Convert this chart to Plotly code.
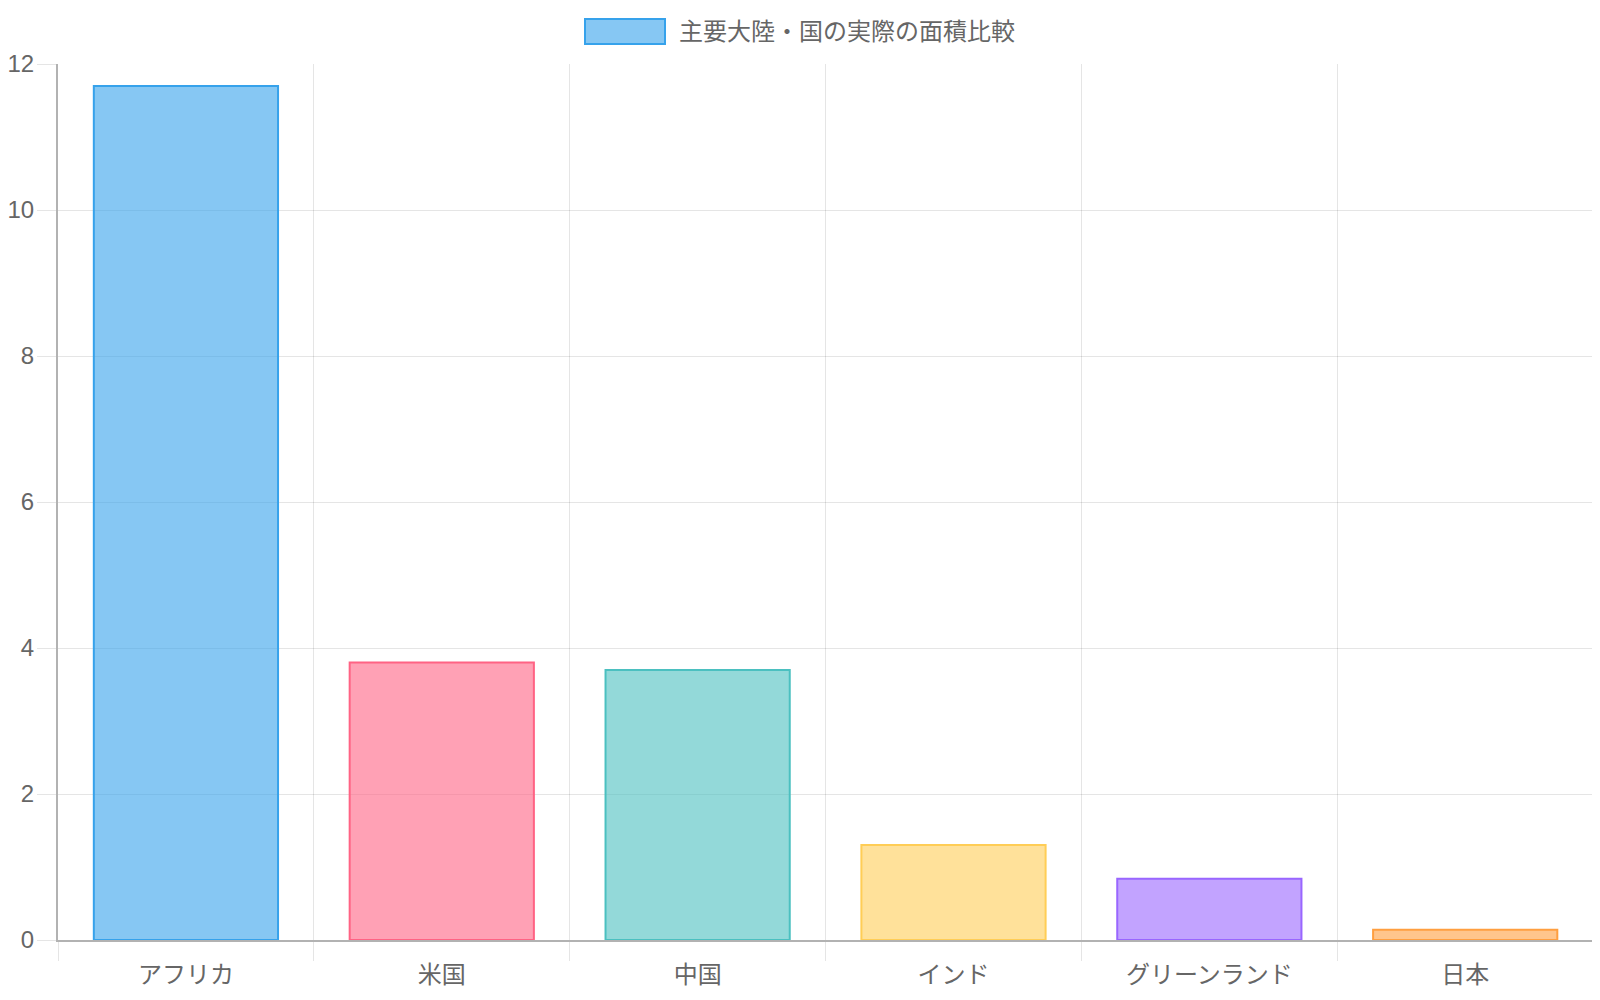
import plotly.graph_objects as go

# data (million sq mi)
categories = ["アフリカ", "米国", "中国", "インド", "グリーンランド", "日本"]
areas = [11.7, 3.8, 3.7, 1.3, 0.84, 0.14]
series_name = "主要大陸・国の実際の面積比較"

fill_colors = ["rgba(54,162,235,0.6)", "rgba(255,99,132,0.6)", "rgba(75,192,192,0.6)",
               "rgba(255,205,86,0.6)", "rgba(153,102,255,0.6)", "rgba(255,159,64,0.6)"]
line_colors = ["rgb(54,162,235)", "rgb(255,99,132)", "rgb(75,192,192)",
               "rgb(255,205,86)", "rgb(153,102,255)", "rgb(255,159,64)"]

# page body has an 8px margin, so the figure is a bit smaller than the window
W, H = 1592, 992
L, R, T, B = 50, 7, 56, 60
font = "Liberation Sans, Arial, Noto Sans CJK JP, sans-serif"
grid = "rgba(0,0,0,0.1)"
axis_line = "rgba(0,0,0,0.3)"


def px_x(px):
    # screen pixel -> paper coordinate
    return (px - 8 - L) / (W - L - R)


def px_y(py):
    return (H - B - (py - 8)) / (H - T - B)


fig = go.Figure()
fig.add_trace(go.Bar(
    x=categories, y=areas, name=series_name, showlegend=False,
    marker=dict(color=fill_colors, line=dict(color=line_colors, width=2)),
))

# chart.js style legend box at the top
fig.add_shape(type="rect", xref="paper", yref="paper",
              x0=px_x(585), x1=px_x(665), y0=px_y(44), y1=px_y(19),
              fillcolor=fill_colors[0], line=dict(color=line_colors[0], width=2))
fig.add_annotation(text=series_name, xref="paper", yref="paper",
                   x=px_x(677), y=px_y(31.5), xanchor="left", yanchor="middle",
                   showarrow=False, font=dict(size=24, color="#666", family=font))

fig.update_layout(
    width=W, height=H,
    margin=dict(l=L, r=R, t=T, b=B, autoexpand=False),
    plot_bgcolor="white", paper_bgcolor="white",
    bargap=0.28,
    font=dict(family=font, size=24, color="#666"),
    xaxis=dict(
        type="category", tickson="boundaries",
        range=[-0.5, 5.4995],
        showgrid=True, gridcolor=grid, gridwidth=1,
        ticks="outside", ticklen=19, tickcolor=grid,
        ticklabelstandoff=12,
        showline=True, linecolor=axis_line, linewidth=2,
        tickfont=dict(size=24, color="#666"),
    ),
    yaxis=dict(
        range=[0, 12], dtick=2,
        showgrid=True, gridcolor=grid, gridwidth=1,
        zeroline=False,
        ticks="outside", ticklen=19, tickcolor=grid,
        ticklabelstandoff=-2,
        showline=True, linecolor=axis_line, linewidth=2,
        tickfont=dict(size=24, color="#666"),
    ),
    # right-hand border line like the last grid line in the reference
    yaxis2=dict(overlaying="y", side="right", range=[0, 12], showline=True,
                linecolor=grid, linewidth=1, showgrid=False, zeroline=False,
                showticklabels=False, ticks=""),
)

fig.write_html("out.html")
